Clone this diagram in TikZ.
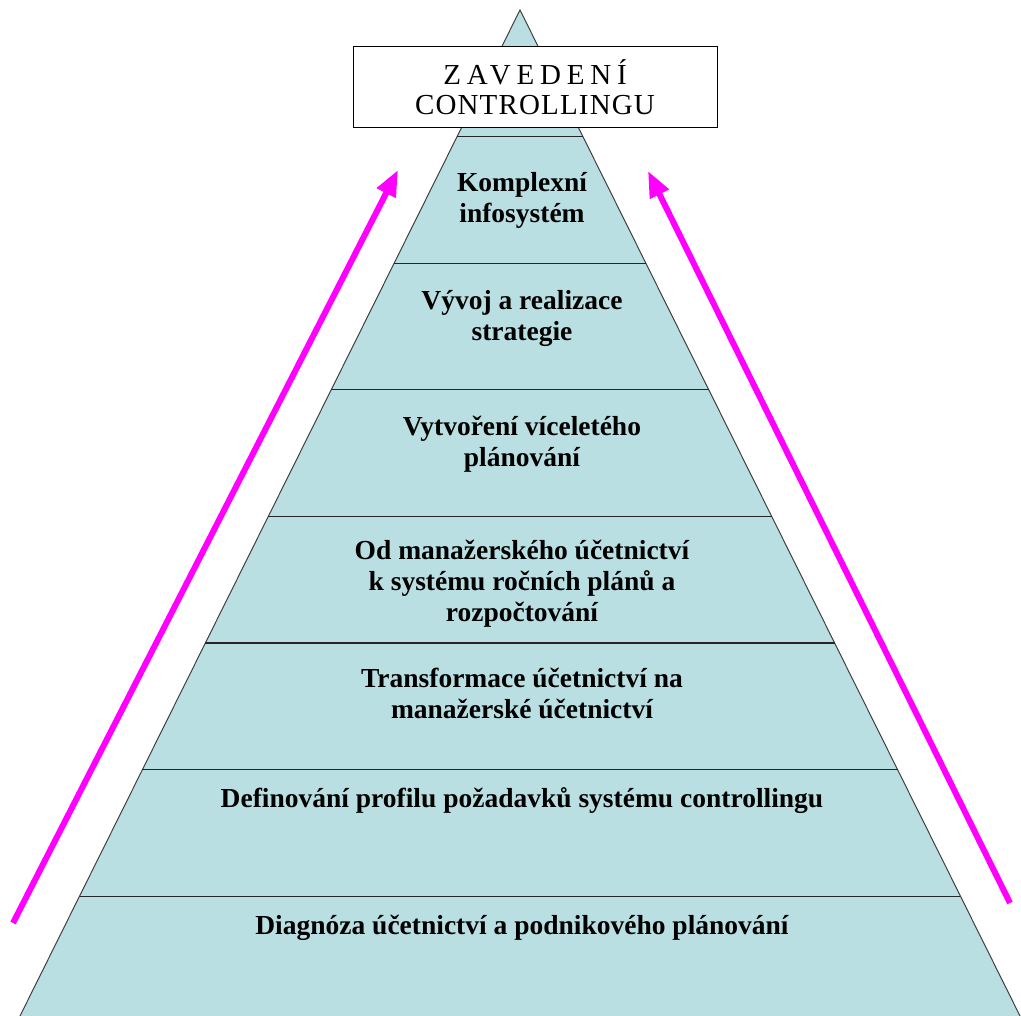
\documentclass[tikz,border=0pt]{standalone}
\usepackage{fontspec}
\setmainfont{Liberation Serif}
\usetikzlibrary{arrows.meta, calc}
\definecolor{pyrfill}{RGB}{185,223,226}
\definecolor{upmagenta}{RGB}{255,0,255}
\tikzstyle{level} = [text centered, align=center, font=\bfseries\fontsize{27.5}{31}\selectfont]
\tikzstyle{divider} = [line width=1.3pt, black!85]
\tikzstyle{pyredge} = [line width=1pt, black!75]
\tikzstyle{uparrow} = [line width=6pt, upmagenta, -{Triangle[length=26pt, width=20pt]}]
\tikzstyle{titlebox} = [rectangle, draw, line width=1pt, fill=white, minimum width=364pt, minimum height=81pt, align=center, font=\fontsize{29}{30}\selectfont]

\begin{document}
\begin{tikzpicture}[x=1pt, y=-1pt]
    \useasboundingbox (0,0) rectangle (1021,1016);
    \clip (0,0) rectangle (1021,1016);

    % Pyramid
    \coordinate (apex) at (520,10);
    \coordinate (baseL) at (16.6,1022.8);
    \coordinate (baseR) at (1023.4,1022.8);
    \fill [pyrfill] (apex) -- (baseL) -- (baseR) -- cycle;
    \draw [pyredge] (baseL) -- (apex) -- (baseR);
    \foreach \k in {1,...,7}
        \draw [divider] ($(apex)!\k/8!(baseL)$) -- ($(apex)!\k/8!(baseR)$);

    % Levels
    \node (diag) [level] at (522,928) {Diagnóza účetnictví a podnikového plánování};
    \node (profil) [level] at (522,801) {Definování profilu požadavků systému controllingu};
    \node (transf) [level] at (522,693) {Transformace účetnictví na\\manažerské účetnictví};
    \node (rocni) [level] at (522,584) {Od manažerského účetnictví\\k systému ročních plánů a\\rozpočtování};
    \node (vicelete) [level] at (522,444) {Vytvoření víceletého\\plánování};
    \node (strat) [level] at (522,318) {Vývoj a realizace\\strategie};
    \node (info) [level] at (522,200) {Komplexní\\infosystém};

    % Title
    \node (title) [titlebox] at (535,87.5) {{\addfontfeature{LetterSpace=20}ZAVEDENÍ}\\{\addfontfeature{LetterSpace=4}CONTROLLINGU}};

    % ==== Arrows
    \coordinate (leftTail) at (13,923);
    \coordinate (leftTip) at (398,170);
    \coordinate (rightTail) at (1010,903);
    \coordinate (rightTip) at (648,171);
    \draw [uparrow] (leftTail) -- (leftTip);
    \draw [uparrow] (rightTail) -- (rightTip);

\end{tikzpicture}
\end{document}
